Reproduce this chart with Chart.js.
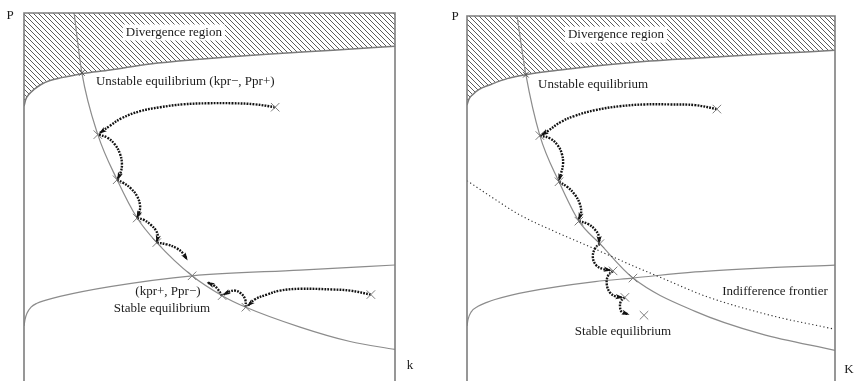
<!DOCTYPE html>
<html>
<head>
<meta charset="utf-8">
<script src="https://cdn.jsdelivr.net/npm/chart.js@4.4.1/dist/chart.umd.min.js"></script>
<style>
  html, body { margin: 0; padding: 0; background: #ffffff; }
  #wrap { position: relative; width: 856px; height: 381px; overflow: hidden; }
  canvas { position: absolute; top: 0; }
  #leftPanel { left: 0; }
  #rightPanel { left: 428px; }
</style>
</head>
<body>
<div id="wrap">
  <canvas id="leftPanel" width="428" height="381"></canvas>
  <canvas id="rightPanel" width="428" height="381"></canvas>
</div>
<script>
// ---- Left panel: phase diagram in (k, P) ----
const leftDivergence = [[0,74.2],[0.5,76.1],[1.3,77.4],[2.7,78.8],[4.6,80.2],[7.0,81.3],[10.2,82.1],[15.6,83.2],[23.2,84.2],[34.0,85.9],[47.4,87.2],[65.5,88.6],[83.3,89.7],[100,90.8]];
const leftPriceLocus = [[13.5,100],[15.6,83.4],[19.9,66.3],[25.1,53.8],[30.5,43.2],[35.8,36.4],[45.3,27.2],[53.4,21.7],[59.8,18.5],[74.4,13.0],[87.9,9.0],[100,6.8]];
const leftCapitalLocus = [[0,13.3],[0.3,15.2],[0.8,16.8],[1.9,18.5],[3.5,19.6],[5.7,20.4],[9.7,21.5],[23.2,24.2],[45.3,27.2],[74.4,28.8],[100,30.2]];
const leftPaths = [
  [[67.7,73.9],[62.3,74.7],[56.3,75.0],[49.6,75.0],[42.9,74.7],[36.7,73.9],[31.3,72.8],[26.4,70.9],[23.2,68.8],[20.5,66.8]],
  [[20.2,66.3],[22.4,65.5],[24.5,63.6],[25.9,60.9],[26.4,58.2],[26.1,56.0],[25.3,54.1]],
  [[25.1,53.8],[26.7,53.0],[28.8,51.4],[30.5,49.2],[31.3,46.5],[31.0,44.6],[30.5,43.4]],
  [[30.5,43.2],[32.3,42.7],[34.2,41.3],[35.6,39.7],[36.1,38.0],[35.8,36.7]],
  [[35.8,36.4],[38.5,35.9],[41.2,34.8],[42.9,33.4],[43.9,31.8]],
  [[93.5,22.0],[87.9,23.1],[83.3,23.4],[74.4,23.6],[69.0,23.1],[65.5,22.0],[62.3,20.7],[60.4,19.0]],
  [[59.8,18.5],[59.6,20.7],[58.5,22.3],[56.9,23.1],[55.3,22.8],[53.9,22.0]],
  [[53.4,21.7],[52.3,23.4],[51.2,24.5],[49.6,25.3]]
];
const leftMarks = [[67.7,73.9],[19.9,66.3],[25.1,53.8],[30.5,43.2],[35.8,36.4],[45.3,27.2],[53.4,21.7],[59.8,18.5],[93.5,22.0]];
const leftUnstable = [[15.6,83.4]];
const leftLabelText = ['Divergence region', 'Unstable equilibrium (kpr\u2212, Ppr+)', '(kpr+, Ppr\u2212)', 'Stable equilibrium'];
const leftLabelAt = [[40.4,94.6],[19.4,81.0],[38.8,22.8],[37.2,18.2]];
const leftAxisNames = ['k', 'P'];

// ---- Right panel: same dynamics with an indifference frontier ----
const rightDivergence = [[0,75.1],[0.5,76.7],[1.6,78.1],[3.3,79.5],[6.3,80.8],[10.9,82.5],[16.0,83.6],[25.3,84.9],[34.8,86.0],[49.7,87.4],[62.0,88.2],[79.9,89.3],[100,90.4]];
const rightPriceLocus = [[13.6,100],[16.0,83.6],[19.8,66.6],[25.0,53.7],[30.4,42.7],[36.1,36.4],[45.1,26.8],[62.0,17.5],[79.9,11.2],[100,6.6]];
const rightCapitalLocus = [[0,13.4],[0.3,15.3],[1.1,17.3],[3.0,18.9],[5.4,20.0],[7.6,20.8],[16.6,23.0],[34.8,25.8],[45.1,26.8],[62.0,28.5],[79.9,29.6],[100,30.4]];
const rightFrontier = [[0,54.0],[7.6,48.8],[14.4,44.4],[23.4,40.0],[32.6,35.9],[41.6,31.8],[51.6,27.4],[65.2,21.6],[83.2,16.2],[99.5,12.6]];
const rightPaths = [
  [[67.9,74.0],[62.0,75.1],[55.2,75.3],[48.4,75.3],[41.6,74.8],[34.8,73.7],[29.3,72.1],[25.5,70.4],[22.0,67.9],[20.4,66.8]],
  [[19.8,66.6],[22.6,65.8],[24.7,63.8],[25.8,61.4],[26.1,58.6],[25.5,55.9],[25.0,54.2]],
  [[25.0,53.7],[27.2,52.3],[29.3,50.1],[30.7,47.4],[31.0,44.9],[30.4,43.3]],
  [[30.4,42.7],[32.9,41.9],[34.8,40.3],[35.9,38.4],[35.9,36.7]],
  [[36.1,36.4],[34.8,35.1],[34.2,32.6],[35.1,30.4],[37.0,29.3],[38.9,29.0]],
  [[39.7,28.8],[38.3,27.4],[38.0,24.9],[38.9,22.7],[40.5,21.6],[42.1,21.4]],
  [[42.9,21.4],[41.8,20.3],[41.6,18.6],[42.1,17.3],[43.8,16.7]]
];
const rightMarks = [[67.9,74.0],[19.8,66.6],[25.0,53.7],[30.4,42.7],[36.1,36.4],[39.7,28.8],[45.1,26.8],[42.9,21.4],[48.1,16.4]];
const rightUnstable = [[16.0,83.6]];
const rightLabelText = ['Divergence region', 'Unstable equilibrium', 'Indifference frontier', 'Stable equilibrium'];
const rightLabelAt = [[40.5,94.8],[19.3,80.8],[83.7,23.0],[42.4,11.8]];
const rightAxisNames = ['K', 'P'];

const SERIF = '"Liberation Serif", "DejaVu Serif", serif';
const INK = '#1c1c1c';

function toPoints(a) { return a.map(([x, y]) => ({ x, y })); }

// Diagonal "\" hatching for the divergence region
function hatchPattern() {
  const c = document.createElement('canvas');
  c.width = 5; c.height = 5;
  const g = c.getContext('2d');
  g.strokeStyle = '#4a4a4a';
  g.lineWidth = 0.9;
  g.beginPath(); g.moveTo(-1, -1); g.lineTo(6, 6); g.stroke();
  g.beginPath(); g.moveTo(-1, 4); g.lineTo(1, 6); g.stroke();
  g.beginPath(); g.moveTo(4, -1); g.lineTo(6, 1); g.stroke();
  return g.createPattern(c, 'repeat');
}

function locus(a, order) {
  return { data: toPoints(a), showLine: true, borderColor: '#8c8c8c', borderWidth: 1.2,
    pointRadius: 0, cubicInterpolationMode: 'monotone', fill: false, order };
}
function trajectory(a) {
  return { data: toPoints(a), showLine: true, borderColor: '#121212', borderWidth: 2.4,
    borderDash: [1.8, 1.2], borderCapStyle: 'butt', pointRadius: 0, tension: 0.4,
    fill: false, arrowHead: true, order: 1 };
}
function crosses(a, r, color) {
  return { data: toPoints(a), showLine: false, pointStyle: 'crossRot', pointRadius: r,
    pointBorderColor: color, pointBorderWidth: 1, borderColor: color,
    backgroundColor: 'transparent', order: 0 };
}

// Box on the left, top and right sides of the plotting area
const framePlugin = {
  id: 'frame',
  afterDatasetsDraw(chart) {
    const { ctx, chartArea: a } = chart;
    ctx.save();
    ctx.strokeStyle = '#7e7e7e';
    ctx.lineWidth = 1.6;
    ctx.beginPath();
    ctx.moveTo(a.left, chart.height + 2);
    ctx.lineTo(a.left, a.top);
    ctx.lineTo(a.right, a.top);
    ctx.lineTo(a.right, chart.height + 2);
    ctx.stroke();
    ctx.restore();
  }
};

// Arrowheads at the end of each trajectory, aligned with the curve's tangent
const arrowPlugin = {
  id: 'arrowHeads',
  afterDatasetsDraw(chart) {
    const ctx = chart.ctx;
    chart.data.datasets.forEach((ds, i) => {
      if (!ds.arrowHead) return;
      const pts = chart.getDatasetMeta(i).data;
      const p = pts[pts.length - 1];
      let fx = p.cp1x, fy = p.cp1y;
      if (fx === undefined || (Math.abs(fx - p.x) < 0.5 && Math.abs(fy - p.y) < 0.5)) {
        fx = pts[pts.length - 2].x; fy = pts[pts.length - 2].y;
      }
      const ang = Math.atan2(p.y - fy, p.x - fx);
      ctx.save();
      ctx.translate(p.x, p.y);
      ctx.rotate(ang);
      ctx.fillStyle = '#111';
      ctx.beginPath();
      ctx.moveTo(1.5, 0);
      ctx.lineTo(-6.5, -2.6);
      ctx.lineTo(-4.5, 0);
      ctx.lineTo(-6.5, 2.6);
      ctx.closePath();
      ctx.fill();
      ctx.restore();
    });
  }
};

// Text annotations and axis names
const notesPlugin = {
  id: 'notes',
  afterDraw(chart, args, opts) {
    const { ctx, chartArea: a, scales } = chart;
    ctx.save();
    ctx.font = '13px ' + SERIF;
    ctx.textBaseline = 'middle';
    opts.text.forEach((t, i) => {
      const [vx, vy] = opts.at[i];
      const px = scales.x.getPixelForValue(vx);
      const py = scales.y.getPixelForValue(vy);
      const align = opts.align[i];
      const w = ctx.measureText(t).width;
      if (opts.boxed[i]) {
        const left = align === 'center' ? px - w / 2 : px;
        ctx.fillStyle = '#ffffff';
        ctx.fillRect(left - 3, py - 8, w + 6, 16);
      }
      ctx.fillStyle = INK;
      ctx.textAlign = align;
      ctx.fillText(t, px, py);
    });
    ctx.font = '13px ' + SERIF;
    ctx.textAlign = 'center';
    ctx.fillStyle = INK;
    ctx.fillText(opts.axisNames[0], a.right + opts.xNameDx, a.bottom - opts.xNameDy);
    ctx.fillText(opts.axisNames[1], a.left - opts.yNameDx, a.top + opts.yNameDy);
    ctx.restore();
  }
};

function buildPanel(canvas, parts) {
  const datasets = [];
  datasets.push(crosses(parts.marks, 6, '#7c7c7c'));
  datasets.push(crosses(parts.unstable, 4, '#555'));
  parts.paths.forEach(p => datasets.push(trajectory(p)));
  if (parts.frontier) {
    datasets.push({ data: toPoints(parts.frontier), showLine: true, borderColor: '#2a2a2a',
      borderWidth: 1.1, borderDash: [1.2, 2.6], pointRadius: 0,
      cubicInterpolationMode: 'monotone', fill: false, order: 2 });
  }
  datasets.push(locus(parts.priceLocus, 3));
  datasets.push(locus(parts.capitalLocus, 3));
  const div = locus(parts.divergence, 4);
  div.fill = 'end';
  div.backgroundColor = hatchPattern();
  div.borderColor = '#7a7a7a';
  div.borderWidth = 1.5;
  datasets.push(div);

  return new Chart(canvas, {
    type: 'scatter',
    data: { datasets },
    options: {
      responsive: false,
      animation: false,
      devicePixelRatio: 1,
      layout: { padding: parts.padding },
      scales: {
        x: { type: 'linear', min: 0, max: 100, display: false },
        y: { type: 'linear', min: 0, max: 100, display: false }
      },
      plugins: {
        legend: { display: false },
        tooltip: { enabled: false },
        notes: parts.notes
      }
    },
    plugins: [framePlugin, arrowPlugin, notesPlugin]
  });
}

buildPanel(document.getElementById('leftPanel'), {
  divergence: leftDivergence,
  priceLocus: leftPriceLocus,
  capitalLocus: leftCapitalLocus,
  paths: leftPaths,
  marks: leftMarks,
  unstable: leftUnstable,
  padding: { left: 24, top: 13, right: 33, bottom: 0 },
  notes: {
    text: leftLabelText, at: leftLabelAt,
    align: ['center', 'left', 'center', 'center'],
    boxed: [true, false, false, false],
    axisNames: leftAxisNames,
    xNameDx: 15, xNameDy: 8, yNameDx: 14, yNameDy: 3
  }
});

buildPanel(document.getElementById('rightPanel'), {
  divergence: rightDivergence,
  priceLocus: rightPriceLocus,
  capitalLocus: rightCapitalLocus,
  frontier: rightFrontier,
  paths: rightPaths,
  marks: rightMarks,
  unstable: rightUnstable,
  padding: { left: 39, top: 16, right: 21, bottom: 0 },
  notes: {
    text: rightLabelText, at: rightLabelAt,
    align: ['center', 'left', 'center', 'center'],
    boxed: [true, false, false, false],
    axisNames: rightAxisNames,
    xNameDx: 14, xNameDy: 4, yNameDx: 12, yNameDy: 1
  }
});
</script>
</body>
</html>
